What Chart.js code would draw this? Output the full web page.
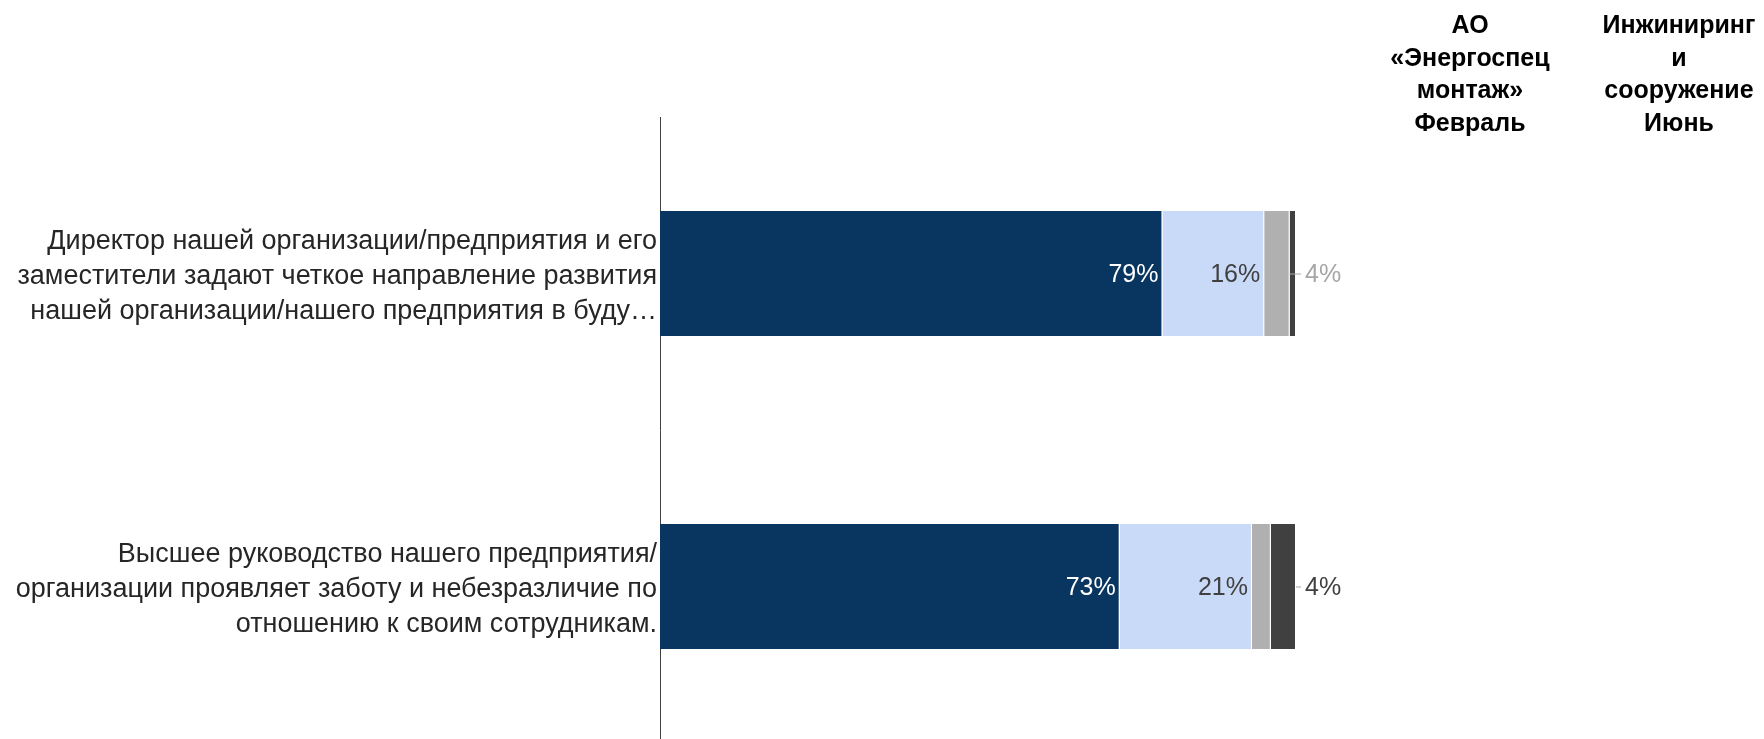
<!DOCTYPE html>
<html>
<head>
<meta charset="utf-8">
<script src="https://cdn.jsdelivr.net/npm/chart.js@4"></script>
<style>
    html, body { margin: 0; padding: 0; background: #fff; overflow: hidden; }
    #wrap { position: relative; width: 1764px; height: 739px; overflow: hidden; }
    canvas { position: absolute; left: 0; top: 0; }
    .head {
        position: absolute; top: 8px; width: 200px; text-align: center;
        font: bold 25px "Liberation Sans", Arial, sans-serif; line-height: 32.6px; color: #000;
    }
</style>
</head>
<body>
<div id="wrap">
    <canvas id="myChart" width="1764" height="750"></canvas>
    <div class="head" style="left:1370px">АО<br>«Энергоспец<br>монтаж»<br>Февраль</div>
    <div class="head" style="left:1579px">Инжиниринг<br>и<br>сооружение<br>Июнь</div>
</div>
<script>
const categories = [
    ['Директор нашей организации/предприятия и его', 'заместители задают четкое направление развития', 'нашей организации/нашего предприятия в буду…'],
    ['Высшее руководство нашего предприятия/', 'организации проявляет заботу и небезразличие по', 'отношению к своим сотрудникам.']
];
const seriesNames = ['Полностью согласен', 'Скорее согласен', 'Скорее не согласен', 'Полностью не согласен'];
const fullyAgree = [79, 73];
const ratherAgree = [16, 21];
const ratherDisagree = [4, 3];
const disagree = [1, 4];

const colors = ['#093660', '#c9daf8', '#b0b0b0', '#404040'];
const insideText = ['#ffffff', '#404040'];
const outsideText = ['#a6a6a6', '#404040'];

const raw = [fullyAgree, ratherAgree, ratherDisagree, disagree];
// each bar is stretched to 100%, labels keep the rounded answers
const totals = categories.map((c, i) => raw.reduce((s, arr) => s + arr[i], 0));

const FONT = '"Liberation Sans", Arial, sans-serif';

const valueLabels = {
    id: 'valueLabels',
    afterDatasetsDraw(chart) {
        const ctx = chart.ctx;
        ctx.save();
        ctx.font = '25px ' + FONT;
        ctx.textBaseline = 'middle';
        chart.data.datasets.forEach((ds, di) => {
            const meta = chart.getDatasetMeta(di);
            meta.data.forEach((bar, i) => {
                const v = ds.raw[i];
                const ty = bar.y + 2;
                if (v >= 10) {
                    ctx.fillStyle = insideText[di];
                    ctx.textAlign = 'right';
                    ctx.fillText(v + '%', bar.x - 4, ty);
                } else if (v >= 4) {
                    // small shares go outside the bar with a short leader line
                    const last = chart.getDatasetMeta(chart.data.datasets.length - 1).data[i];
                    const lx = last.x + 9;
                    ctx.strokeStyle = '#a6a6a6';
                    ctx.lineWidth = 1;
                    ctx.beginPath();
                    ctx.moveTo(bar.x, bar.y + 0.5);
                    ctx.lineTo(lx - 4, bar.y + 0.5);
                    ctx.stroke();
                    ctx.fillStyle = outsideText[i];
                    ctx.textAlign = 'left';
                    ctx.fillText(v + '%', lx, ty);
                }
            });
        });
        ctx.restore();
    }
};

new Chart(document.getElementById('myChart').getContext('2d'), {
    type: 'bar',
    data: {
        labels: categories,
        datasets: raw.map((arr, di) => ({
            label: seriesNames[di],
            raw: arr,
            data: arr.map((v, i) => v / totals[i] * 100),
            backgroundColor: colors[di],
            borderColor: '#ffffff',
            borderWidth: { top: 0, bottom: 0, left: 0, right: 1 },
            borderSkipped: false,
            categoryPercentage: 1,
            barPercentage: 0.4
        }))
    },
    options: {
        indexAxis: 'y',
        responsive: false,
        animation: false,
        layout: { padding: { left: 0, right: 468, top: 117, bottom: 7 } },
        plugins: {
            legend: { display: false },
            tooltip: { enabled: false }
        },
        scales: {
            x: {
                display: false,
                stacked: true,
                min: 0,
                max: 100
            },
            y: {
                stacked: true,
                grid: { display: false, drawTicks: false },
                border: { display: true, color: '#404040', width: 1 },
                ticks: {
                    color: '#262626',
                    padding: 3,
                    labelOffset: 3,
                    font: { family: FONT, size: 27, lineHeight: 1.31 }
                },
                afterFit(scale) {
                    scale.width = 660;
                    scale.paddingTop = 0;
                    scale.paddingBottom = 0;
                }
            }
        }
    },
    plugins: [valueLabels]
});
</script>
</body>
</html>
